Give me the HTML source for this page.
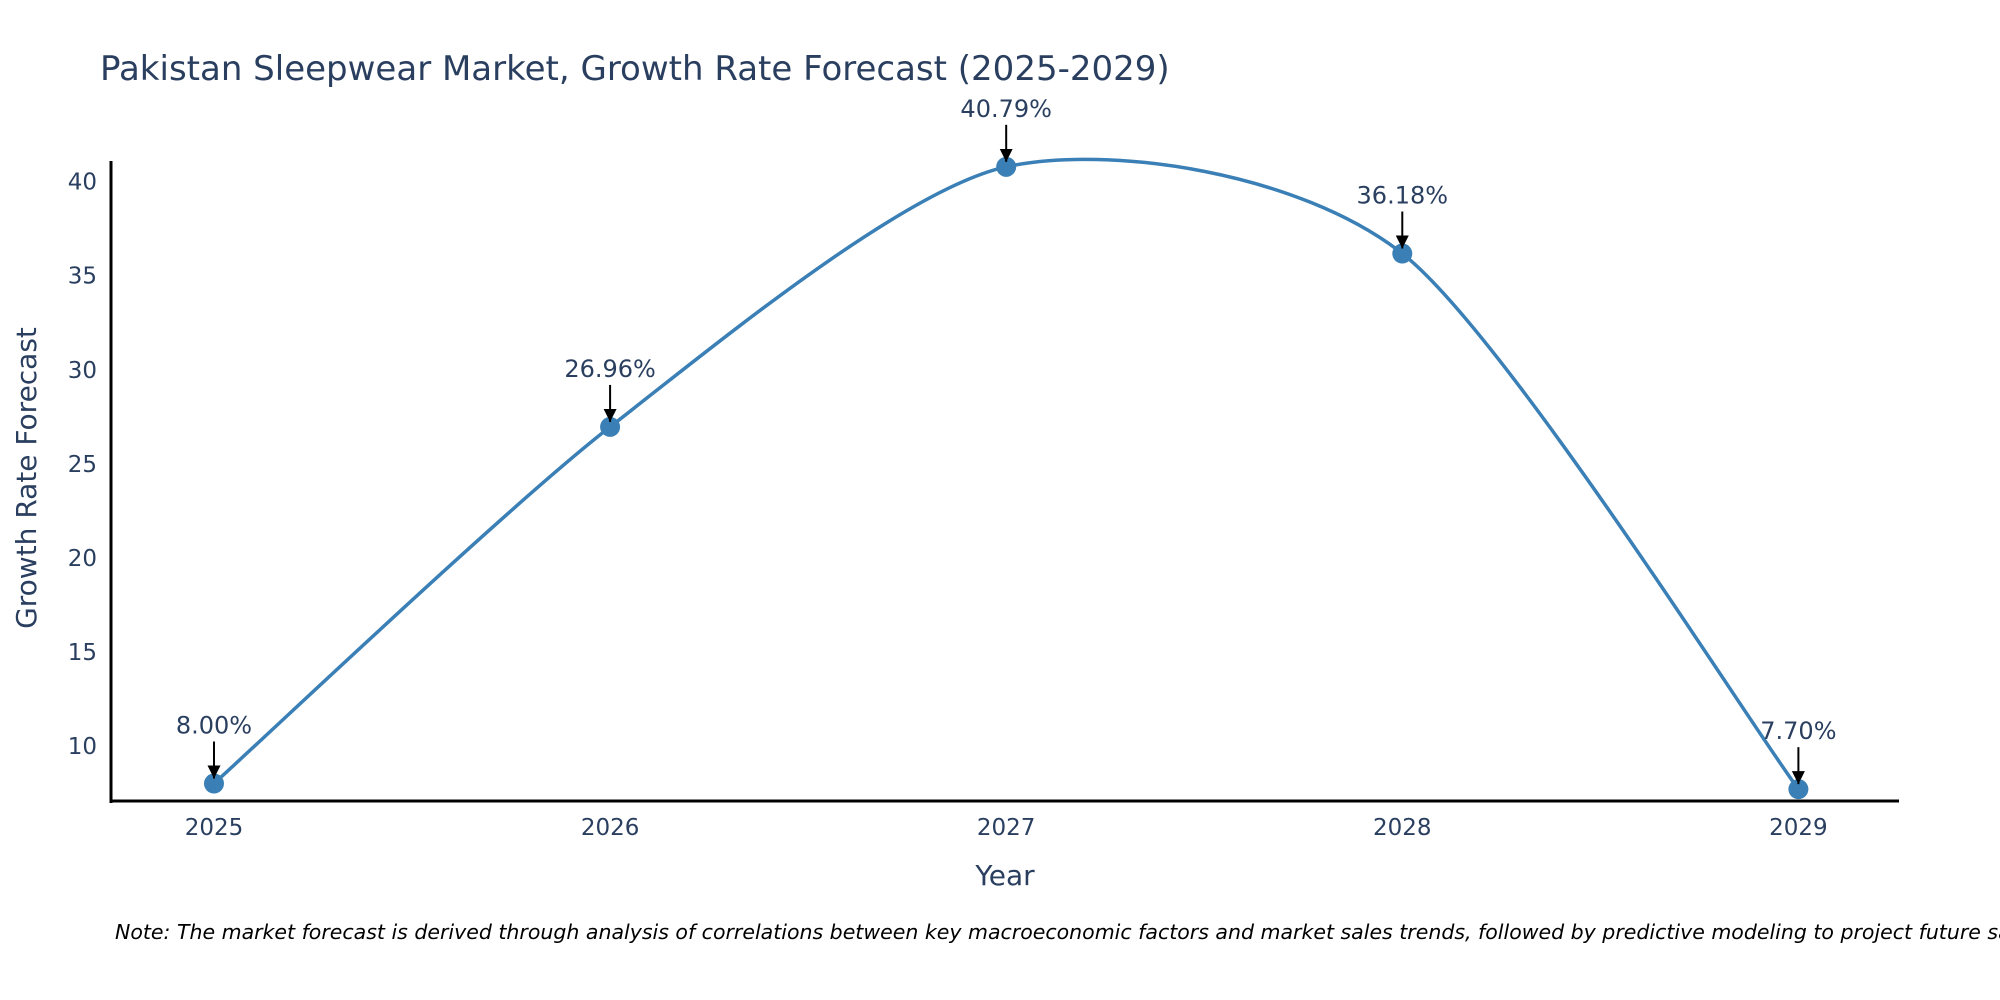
<!DOCTYPE html>
<html><head><meta charset="utf-8"><style>
body{margin:0;background:#fff;}
svg{display:block;font-family:"DejaVu Sans","Liberation Sans",sans-serif;}
</style></head><body>
<svg id="chart" width="2000" height="1000" viewBox="0 0 2000 1000" xmlns="http://www.w3.org/2000/svg">
<defs><marker id="ah" viewBox="0 0 10 10" refX="10" refY="5" markerWidth="6.5" markerHeight="6.5" orient="auto"><path d="M0,0 L10,5 L0,10 z" fill="#000"/></marker></defs>
<text x="100" y="80" font-size="34" fill="#2a3f5f">Pakistan Sleepwear Market, Growth Rate Forecast (2025-2029)</text>
<g id="yticks"></g>
<g id="xticks"></g>
<path id="line" fill="none" stroke="#3a7fb5" stroke-width="3.5"/>
<g id="marks"></g>
<g id="annots"></g>
<line x1="111" y1="161" x2="111" y2="803" stroke="#000" stroke-width="3"/>
<line x1="109.5" y1="801" x2="1899" y2="801" stroke="#000" stroke-width="3"/>
<text transform="translate(36,478) rotate(-90)" text-anchor="middle" font-size="28" fill="#2a3f5f">Growth Rate Forecast</text>
<text x="1005" y="885" text-anchor="middle" font-size="28" fill="#2a3f5f">Year</text>
<text x="115" y="939" font-size="20.5" font-style="italic" fill="#000">Note: The market forecast is derived through analysis of correlations between key macroeconomic factors and market sales trends, followed by predictive modeling to project future sales</text>
</svg>
<script>
const years=[2025,2026,2027,2028,2029];
const values=[8.00,26.96,40.79,36.18,7.70];
const labels=["8.00%","26.96%","40.79%","36.18%","7.70%"];
const yTickVals=[10,15,20,25,30,35,40];
const NS="http://www.w3.org/2000/svg";
const X0=111,X1=1899,Y0=801,Y1=161;
const xMin=2024.74,xMax=2029.254,yMin=7.07,yMax=41.1;
function xs(v){return X0+(v-xMin)/(xMax-xMin)*(X1-X0);}
function ys(v){return Y0-(v-yMin)/(yMax-yMin)*(Y0-Y1);}
function mk(t,a){const e=document.createElementNS(NS,t);for(const k in a)e.setAttribute(k,a[k]);return e;}
const yt=document.getElementById('yticks');
yTickVals.forEach(v=>{const t=mk('text',{x:97,y:ys(v)+8,'text-anchor':'end','font-size':23,fill:'#2a3f5f'});


t.textContent=v;yt.appendChild(t);});
const xt=document.getElementById('xticks');
years.forEach(v=>{const t=mk('text',{x:xs(v),y:835,'text-anchor':'middle','font-size':23,fill:'#2a3f5f'});


t.textContent=v;xt.appendChild(t);});
const pts=years.map((y,i)=>[xs(y),ys(values[i])]);
let d='M'+pts[0][0]+','+pts[0][1];
const s=0.13;
for(let i=0;i<pts.length-1;i++){
 const p0=pts[Math.max(0,i-1)],p1=pts[i],p2=pts[i+1],p3=pts[Math.min(pts.length-1,i+2)];
 const c1=[p1[0]+(p2[0]-p0[0])*s,p1[1]+(p2[1]-p0[1])*s];
 const c2=[p2[0]-(p3[0]-p1[0])*s,p2[1]-(p3[1]-p1[1])*s];
 d+=' C'+c1+' '+c2+' '+p2;
}
document.getElementById('line').setAttribute('d',d);
const mg=document.getElementById('marks'),ag=document.getElementById('annots');
pts.forEach((p,i)=>{
 const c=mk('circle',{cx:p[0],cy:p[1],r:10,fill:'#3a7fb5'});
 
 
 mg.appendChild(c);
 const l=mk('line',{x1:p[0],y1:p[1]-42,x2:p[0],y2:p[1]-5,stroke:'#000','stroke-width':2,'marker-end':'url(#ah)'});
 
 
 ag.appendChild(l);
 const t=mk('text',{x:p[0],y:p[1]-50,'text-anchor':'middle','font-size':24,fill:'#2a3f5f'});
 
 
 t.textContent=labels[i];ag.appendChild(t);
});
</script>
</body></html>
